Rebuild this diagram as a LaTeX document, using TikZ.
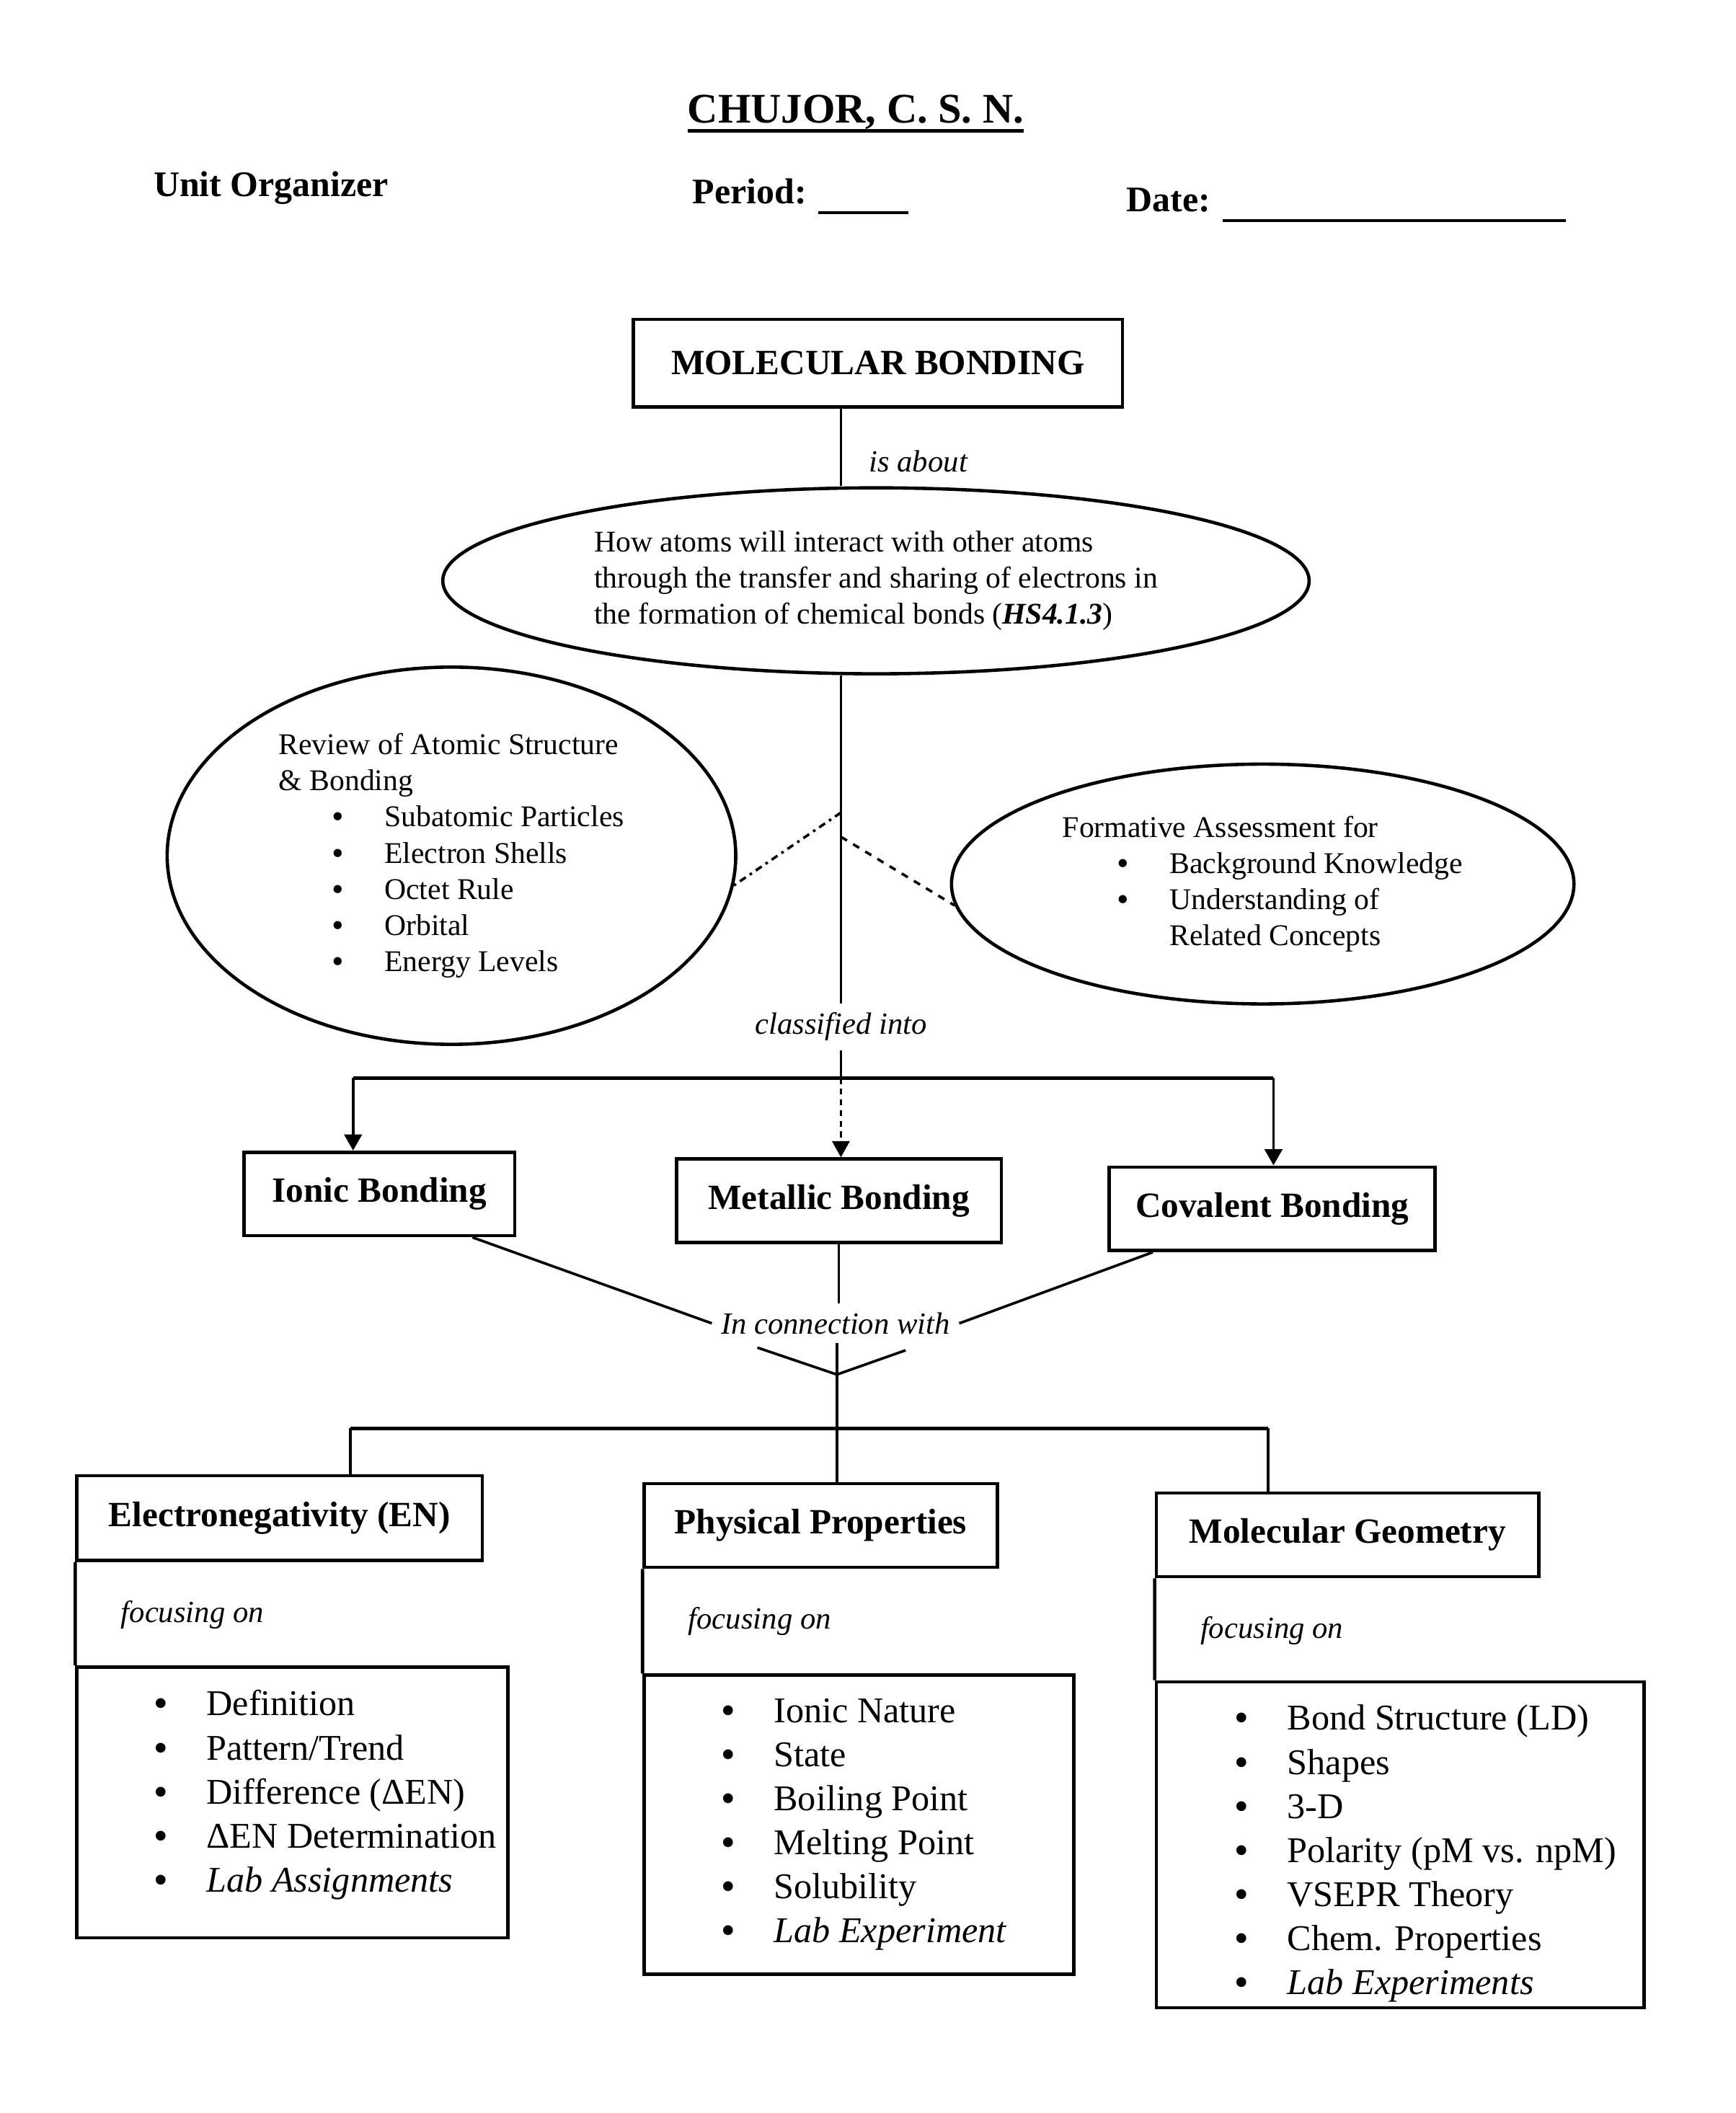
\documentclass[tikz,border=0pt]{standalone}
\usepackage{fontspec}
\setmainfont{Liberation Serif}
\usetikzlibrary{arrows.meta, positioning, shapes.geometric, calc}
\newcommand{\ulthick}[1]{\setbox0\hbox{#1}\rlap{\rule[-4.2pt]{\wd0}{1.5pt}}\box0}
\newcommand{\bitem}[1]{\makebox[0.77cm][l]{\textbf{\textbullet}}#1}
\tikzset{
  every picture/.style={line width=1.1pt},
  box/.style={draw, line width=1.4pt, inner sep=0pt, font=\fontsize{15}{18}\selectfont\bfseries},
  frame/.style={draw, line width=1.4pt, inner sep=0pt},
  oval/.style={draw, ellipse, line width=1.4pt, inner sep=0pt, align=left, font=\fontsize{12.7}{15.3}\selectfont},
  lbl/.style={font=\fontsize{13}{15}\selectfont\itshape},
  list/.style={inner sep=0pt, align=left, font=\fontsize{15.3}{18.6}\selectfont},
  head/.style={font=\fontsize{15.2}{18}\selectfont\bfseries, anchor=base west, inner sep=0pt},
  bar/.style={line width=1.4pt},
  arrow/.style={-{Triangle[length=0.24cm, width=0.26cm]}, line width=1.2pt},
  dots/.style={arrow, line width=0.8pt, dash pattern=on 2.5pt off 2pt},
}

\begin{document}
\begin{tikzpicture}[x=0.02cm, y=-0.02cm]
  \useasboundingbox (0,0) rectangle (1288,1568);
  % heading
  \node[anchor=base, inner sep=0pt, font=\fontsize{17.8}{21}\selectfont\bfseries] (title) at (635,91) {\ulthick{CHUJOR, C. S. N.}};
  \node[head] (unit) at (113,146) {Unit Organizer};
  \node[head] (period) at (513,151) {Period: \rule[-4.5pt]{38pt}{1.3pt}};
  \node[head] (date) at (835,157) {Date: \rule[-4.5pt]{145pt}{1.3pt}};
  % topic and what it is about
  \node[box, minimum width=7.26cm, minimum height=1.3cm] (mb) at (651.5,269.5) {MOLECULAR BONDING};
  \node[oval, minimum width=12.86cm, minimum height=2.76cm] (how) at (650,431)
    {How atoms will interact with other atoms\\through the transfer and sharing of electrons in\\the formation of chemical bonds (\textbf{\textit{HS4.1.3}})};
  \node[lbl] (cls) at (624,762) {classified into};
  \draw (mb.south -| cls) -- node[lbl, right=8pt, pos=0.68] (about) {is about} (how.north -| cls);
  \draw (how.south -| cls) -- (cls);
  % side ovals
  \node[oval, minimum width=8.44cm, minimum height=5.6cm] (review) at (335,635)
    {Review of Atomic Structure\\\& Bonding\\
     \hspace*{0.8cm}\bitem{Subatomic Particles}\\
     \hspace*{0.8cm}\bitem{Electron Shells}\\
     \hspace*{0.8cm}\bitem{Octet Rule}\\
     \hspace*{0.8cm}\bitem{Orbital}\\
     \hspace*{0.8cm}\bitem{Energy Levels}};
  \node[oval, minimum width=9.24cm, minimum height=3.56cm] (form) at (937,656)
    {Formative Assessment for\\
     \hspace*{0.82cm}\bitem{Background Knowledge}\\
     \hspace*{0.82cm}\bitem{Understanding of}\\
     \hspace*{1.59cm}Related Concepts};
  \coordinate (forkl) at (624,603);
  \coordinate (forkr) at (624,621);
  \draw[dash dot] (forkl) -- (review.-6);
  \draw[dashed] (forkr) -- (form.184);
  % three kinds of bonding
  \node[box, minimum width=4.02cm, minimum height=1.24cm] (ionic) at (281.5,886) {Ionic Bonding};
  \node[box, minimum width=4.82cm, minimum height=1.24cm] (metal) at (622.5,891) {Metallic Bonding};
  \node[box, minimum width=4.84cm, minimum height=1.24cm] (cov) at (944,897) {Covalent Bonding};
  \coordinate (split) at (624,800);
  \coordinate (bl) at (262,800);
  \coordinate (br) at (945,800);
  \draw (cls) -- (split);
  \draw[bar] (bl) -- (br);
  \draw[arrow] (bl) -- (ionic.north -| bl);
  \draw[dots] (split) -- (metal.north -| split);
  \draw[arrow] (br) -- (cov.north -| br);
  % in connection with
  \node[lbl] (conn) at (620,982) {In connection with};
  \draw (ionic.-25) -- (conn.west);
  \draw (metal.south) -- (metal.south |- conn.north);
  \draw (cov.200) -- (conn.east);
  \coordinate (merge) at (621,1020);
  \coordinate (funl) at (562,1000);
  \coordinate (funr) at (672,1002);
  \draw (funl) -- (merge) -- (funr);
  % electronegativity column
  \node[box, minimum width=6.02cm, minimum height=1.26cm] (en) at (207.5,1126.5) {Electronegativity (EN)};
  \node[frame, minimum width=6.4cm, minimum height=4.02cm] (enl) at (217,1337.5) {};
  \draw[frame] (en.south west) -- (enl.north west);
  \node[lbl, inner sep=0pt, below right=0.55cm and 0.66cm of en.south west] (enfoc) {focusing on};
  \node[list, below right=0.35cm and 1.16cm of enl.north west] (enitems)
    {\bitem{Definition}\\\bitem{Pattern/Trend}\\\bitem{Difference (ΔEN)}\\\bitem{ΔEN Determination}\\\bitem{\textit{Lab Assignments}}};
  % physical properties column
  \node[box, minimum width=5.24cm, minimum height=1.24cm] (pp) at (609,1132) {Physical Properties};
  \node[frame, minimum width=6.38cm, minimum height=4.44cm] (ppl) at (637.5,1354) {};
  \draw[frame] (pp.south west) -- (ppl.north west);
  \node[lbl, inner sep=0pt, below right=0.55cm and 0.66cm of pp.south west] (ppfoc) {focusing on};
  \node[list, below right=0.35cm and 1.16cm of ppl.north west] (ppitems)
    {\bitem{Ionic Nature}\\\bitem{State}\\\bitem{Boiling Point}\\\bitem{Melting Point}\\\bitem{Solubility}\\\bitem{\textit{Lab Experiment}}};
  % molecular geometry column
  \node[box, minimum width=5.68cm, minimum height=1.24cm] (mg) at (1000,1139) {Molecular Geometry};
  \node[frame, minimum width=7.24cm, minimum height=4.84cm] (mgl) at (1039,1369) {};
  \draw[frame] (mg.south west) -- (mgl.north west);
  \node[lbl, inner sep=0pt, below right=0.55cm and 0.66cm of mg.south west] (mgfoc) {focusing on};
  \node[list, below right=0.35cm and 1.18cm of mgl.north west] (mgitems)
    {\bitem{Bond Structure (LD)}\\\bitem{Shapes}\\\bitem{3-D}\\\bitem{Polarity (pM vs. npM)}\\\bitem{VSEPR Theory}\\\bitem{Chem. Properties}\\\bitem{\textit{Lab Experiments}}};
  % lower bar
  \coordinate (bl2) at (260,1060);
  \coordinate (br2) at (941,1060);
  \draw (conn.south -| merge) -- (pp.north -| merge);
  \draw[bar] (bl2) -- (br2);
  \draw (bl2) -- (en.north -| bl2);
  \draw (br2) -- (mg.north -| br2);
\end{tikzpicture}
\end{document}
